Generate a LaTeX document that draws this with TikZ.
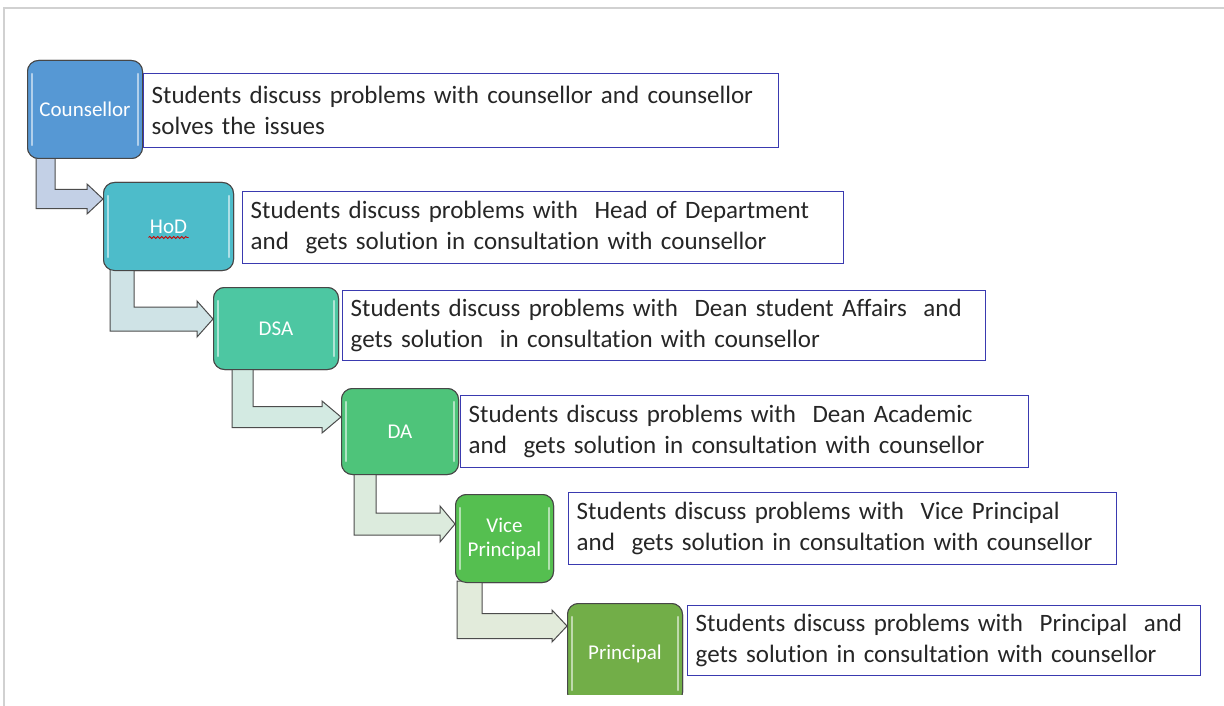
\documentclass[tikz,border=0pt]{standalone}
\usepackage{fontspec}
\setmainfont{Carlito}[Ligatures=NoCommon]
\usetikzlibrary{calc,decorations.pathmorphing}
\definecolor{boxblue}{HTML}{3A3AB0}
\definecolor{cCoun}{HTML}{5698D4}
\definecolor{cHoD}{HTML}{4DBCCA}
\definecolor{cDSA}{HTML}{4DC7A2}
\definecolor{cDA}{HTML}{4EC47A}
\definecolor{cVP}{HTML}{55BF50}
\definecolor{cPr}{HTML}{72AE48}
\definecolor{aA}{HTML}{C3D0E6}
\definecolor{aB}{HTML}{CFE3E6}
\definecolor{aC}{HTML}{D3EAE2}
\definecolor{aD}{HTML}{DCEBDD}
\definecolor{aE}{HTML}{E2EBDB}
\tikzset{
  role/.style={draw=black!72, line width=1pt, rounded corners=11pt, text=white,
    font=\fontsize{21}{24}\selectfont, align=center, anchor=north west, inner sep=0pt},
  txtbox/.style={draw=boxblue, line width=1.4pt, anchor=north west, align=left,
    inner xsep=8pt, inner ysep=0pt, font=\fontsize{25}{31}\selectfont, text=black!85},
  flow/.style={draw=black!70, line width=1pt, line join=miter},
  glossline/.style={white, opacity=.55, line width=2.5pt, line cap=round}
}
\newcommand\bentarrow[8]{%
  \path[flow, fill=#8] let \p1=($(#1.south west)+(#3,-2)$), \p2=($(#2.north west)+(0,#5)$) in
    (\x1,\y1) -- ({\x1+#4pt},\y1) -- ({\x1+#4pt},{\y2+#4pt/2})
    -- ({\x2-#6pt},{\y2+#4pt/2}) -- ({\x2-#6pt},{\y2+#7pt}) -- (\x2,\y2)
    -- ({\x2-#6pt},{\y2-#7pt}) -- ({\x2-#6pt},{\y2-#4pt/2}) -- (\x1,{\y2-#4pt/2}) -- cycle;}
\newcommand\gloss[1]{%
  \draw[glossline] ($(#1.north west)+(5,14)$) -- ($(#1.south west)+(5,-14)$);
  \draw[glossline] ($(#1.north east)+(-5,14)$) -- ($(#1.south east)+(-5,-14)$);}
\begin{document}
\begin{tikzpicture}[x=1pt,y=-1pt]
\useasboundingbox (0,0) rectangle (1224,706);
\fill[white] (0,0) rectangle (1224,706);
\draw[black!18, line width=2pt] (4,706) -- (4,8) -- (1224,8);
\begin{scope}
\clip (0,0) rectangle (1224,694);
% role boxes
\node[role, fill=cCoun, minimum width=115pt, minimum height=98pt] (coun) at (27,60) {Counsellor};
\node[role, fill=cHoD, minimum width=130pt, minimum height=88pt] (hod) at (103,182) {HoD};
\node[role, fill=cDSA, minimum width=125pt, minimum height=82pt] (dsa) at (213,287) {DSA};
\node[role, fill=cDA, minimum width=117pt, minimum height=86pt] (da) at (341,388) {DA};
\node[role, fill=cVP, minimum width=98pt, minimum height=88pt] (vp) at (455,494) {Vice\\Principal};
\node[role, fill=cPr, minimum width=115pt, minimum height=100pt] (pr) at (567,603) {Principal};
% arrows
\bentarrow{coun}{hod}{9}{19}{17}{16}{15}{aA}
\bentarrow{hod}{dsa}{7}{24}{32}{16}{18}{aB}
\bentarrow{dsa}{da}{19}{21}{29}{19}{16}{aC}
\bentarrow{da}{vp}{13}{22}{30}{15}{18}{aD}
\bentarrow{vp}{pr}{2}{25}{23}{15}{16}{aE}
% redraw boxes on top of arrow starts
\node[role, fill=cCoun, minimum width=115pt, minimum height=98pt] at (27,60) {Counsellor};
\node[role, fill=cHoD, minimum width=130pt, minimum height=88pt] at (103,182) {HoD};
\node[role, fill=cDSA, minimum width=125pt, minimum height=82pt] at (213,287) {DSA};
\node[role, fill=cDA, minimum width=117pt, minimum height=86pt] at (341,388) {DA};
\node[role, fill=cVP, minimum width=98pt, minimum height=88pt] at (455,494) {Vice\\Principal};
\node[role, fill=cPr, minimum width=115pt, minimum height=100pt] at (567,603) {Principal};
\gloss{coun}\gloss{hod}\gloss{dsa}\gloss{da}\gloss{vp}\gloss{pr}
\draw[red!80!black, line width=0.8pt, decorate, decoration={snake, amplitude=1pt, segment length=4pt}]
  ($(hod.center)+(-20,11)$) -- ($(hod.center)+(20,11)$);
\end{scope}
% text boxes
\node[txtbox, minimum width=635pt, minimum height=74pt, text width=619pt] (t1) at (143,73)
  {Students discuss problems with counsellor and counsellor\\solves the issues};
\node[txtbox, minimum width=601pt, minimum height=72pt, text width=585pt] (t2) at (242,191)
  {Students discuss problems with~ Head of Department\\and~ gets solution in consultation with counsellor};
\node[txtbox, minimum width=643pt, minimum height=70pt, text width=627pt] (t3) at (342,290)
  {Students discuss problems with~ Dean student Affairs~ and\\gets solution~ in consultation with counsellor};
\node[txtbox, minimum width=568pt, minimum height=72pt, text width=552pt] (t4) at (460,395)
  {Students discuss problems with~ Dean Academic\\and~ gets solution in consultation with counsellor};
\node[txtbox, minimum width=548pt, minimum height=72pt, text width=532pt] (t5) at (568,492)
  {Students discuss problems with~ Vice Principal\\and~ gets solution in consultation with counsellor};
\node[txtbox, minimum width=513pt, minimum height=70pt, text width=497pt] (t6) at (687,605)
  {Students discuss problems with~ Principal~ and\\gets solution in consultation with counsellor};
\end{tikzpicture}
\end{document}
